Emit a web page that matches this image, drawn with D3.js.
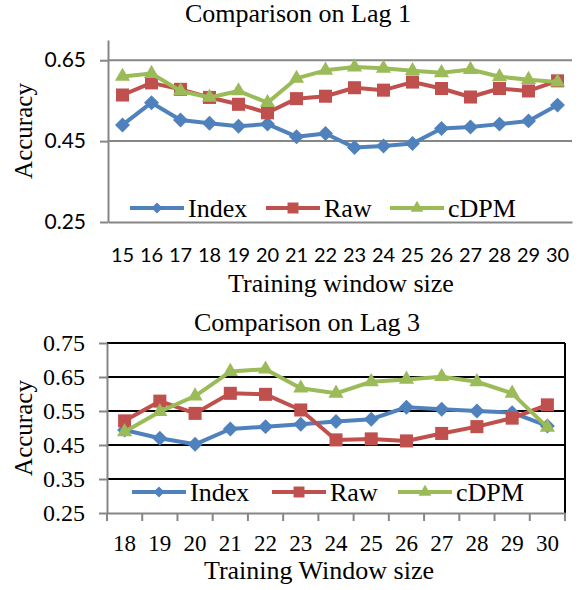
<!DOCTYPE html>
<html>
<head>
<meta charset="utf-8">
<script src="https://cdn.jsdelivr.net/npm/d3@7"></script>
<style>
  body { margin: 0; background: #fff; }
  svg { display: block; }
</style>
</head>
<body>
<div id="chart"></div>
<script>
// data
var lag1Sizes = [15, 16, 17, 18, 19, 20, 21, 22, 23, 24, 25, 26, 27, 28, 29, 30];
var lag1Index = [0.490, 0.545, 0.502, 0.494, 0.487, 0.492, 0.461, 0.469, 0.434, 0.438, 0.444, 0.481, 0.485, 0.492, 0.500, 0.539];
var lag1Raw   = [0.564, 0.594, 0.578, 0.558, 0.541, 0.520, 0.555, 0.561, 0.582, 0.576, 0.596, 0.580, 0.559, 0.580, 0.574, 0.599];
var lag1Cdpm  = [0.610, 0.617, 0.574, 0.558, 0.574, 0.545, 0.605, 0.625, 0.633, 0.630, 0.624, 0.619, 0.627, 0.609, 0.602, 0.596];
var lag1Ticks = [0.25, 0.45, 0.65];

var lag3Sizes = [18, 19, 20, 21, 22, 23, 24, 25, 26, 27, 28, 29, 30];
var lag3Index = [0.494, 0.470, 0.452, 0.497, 0.504, 0.511, 0.519, 0.526, 0.561, 0.555, 0.550, 0.545, 0.506];
var lag3Raw   = [0.521, 0.579, 0.543, 0.602, 0.599, 0.553, 0.465, 0.468, 0.462, 0.484, 0.504, 0.529, 0.568];
var lag3Cdpm  = [0.489, 0.548, 0.594, 0.666, 0.673, 0.617, 0.602, 0.636, 0.643, 0.651, 0.636, 0.602, 0.502];
var lag3Ticks = [0.25, 0.35, 0.45, 0.55, 0.65, 0.75];

var seriesNames = ["Index", "Raw", "cDPM"];
var colors = ["#4F81BD", "#C0504D", "#9BBB59"];

var serif = "'Liberation Serif', 'Times New Roman', serif";
var sans = "Lato, 'Open Sans', sans-serif";

var width = 580, height = 590;
var svg = d3.select("#chart").append("svg")
  .attr("width", width).attr("height", height);

// marker shapes (diamond = rotated square, like Excel)
function marker(sel, i, big) {
  if (i == 0) {
    sel.attr("d", d3.symbol(d3.symbolSquare, big ? 112 : 62)())
      .attr("transform", function() { return d3.select(this).attr("transform") + " rotate(45)"; });
  } else if (i == 1) {
    sel.attr("d", d3.symbol(d3.symbolSquare, big ? 170 : 120)());
  } else {
    sel.attr("d", d3.symbol(d3.symbolTriangle, big ? 100 : 70)());
  }
}

function drawChart(opt) {
  var g = svg.append("g");
  var x = d3.scaleBand().domain(opt.sizes).range([opt.left, opt.right]).padding(0);
  var y = d3.scaleLinear().domain(opt.yDomain).range([opt.bottom, opt.top]);

  // title
  g.append("text").attr("x", opt.titleX).attr("y", opt.titleY)
    .attr("text-anchor", "middle").style("font-family", serif).style("font-size", "26px")
    .text(opt.title);

  // gridlines
  g.append("g").selectAll("line").data(opt.ticks.filter(function(t) { return t > opt.ticks[0]; }))
    .enter().append("line")
    .attr("x1", opt.left).attr("x2", opt.right)
    .attr("y1", function(d) { return y(d); }).attr("y2", function(d) { return y(d); })
    .attr("stroke", opt.gridColor).attr("stroke-width", 2);

  if (opt.box) {
    g.append("line").attr("x1", opt.left).attr("x2", opt.right)
      .attr("y1", opt.top).attr("y2", opt.top).attr("stroke", "#000").attr("stroke-width", 2);
    g.append("line").attr("x1", opt.right).attr("x2", opt.right)
      .attr("y1", opt.top).attr("y2", opt.bottom).attr("stroke", "#000").attr("stroke-width", 2);
  }

  // y axis
  var yAxis = d3.axisLeft(y).tickValues(opt.ticks).tickFormat(d3.format(".2f"))
    .tickSizeInner(8).tickSizeOuter(0).tickPadding(14);
  var ya = g.append("g").attr("transform", "translate(" + opt.left + ",0)").call(yAxis);
  ya.select(".domain").attr("stroke", "#868686").attr("stroke-width", 2);
  ya.selectAll(".tick line").attr("stroke", "#868686").attr("stroke-width", 2);
  ya.selectAll(".tick text").style("font-family", opt.tickFont).style("font-size", opt.yTickSize)
    .attr("fill", "#000");

  // x axis
  var xAxis = d3.axisBottom(x).tickSize(0).tickSizeOuter(0).tickPadding(opt.xPad);
  var xa = g.append("g").attr("transform", "translate(0," + opt.bottom + ")").call(xAxis);
  xa.select(".domain").attr("stroke", "#868686").attr("stroke-width", 2);
  xa.selectAll(".tick text").style("font-family", opt.tickFont).style("font-size", opt.xTickSize)
    .attr("fill", "#000");
  if (opt.xMarks) {
    var bounds = opt.sizes.map(function(d) { return x(d); }).concat([opt.right]);
    xa.selectAll(".bound").data(bounds).enter().append("line")
      .attr("x1", function(d) { return d; }).attr("x2", function(d) { return d; })
      .attr("y1", 0).attr("y2", 8).attr("stroke", "#868686").attr("stroke-width", 2);
  }

  // axis titles
  g.append("text").attr("x", opt.xTitleX).attr("y", opt.xTitleY)
    .attr("text-anchor", "middle").style("font-family", serif).style("font-size", "26px")
    .text(opt.xTitle);
  g.append("text")
    .attr("transform", "translate(" + opt.yTitleX + "," + ((opt.top + opt.bottom) / 2) + ") rotate(-90)")
    .attr("text-anchor", "middle").style("font-family", serif).style("font-size", "25px")
    .text("Accuracy");

  // lines and markers
  var line = d3.line()
    .x(function(d, i) { return x(opt.sizes[i]) + x.bandwidth() / 2; })
    .y(function(d) { return y(d); });
  opt.series.forEach(function(vals, i) {
    g.append("path").datum(vals).attr("d", line)
      .attr("fill", "none").attr("stroke", colors[i]).attr("stroke-width", 4)
      .attr("stroke-linejoin", "round");
    g.append("g").selectAll("path").data(vals).enter().append("path")
      .attr("transform", function(d, j) {
        return "translate(" + (x(opt.sizes[j]) + x.bandwidth() / 2) + "," + y(d) + ")";
      })
      .attr("fill", colors[i])
      .each(function() { marker(d3.select(this), i, true); });
  });

  // legend
  var leg = g.append("g");
  seriesNames.forEach(function(name, i) {
    var lx = opt.legendX[i];
    leg.append("line").attr("x1", lx).attr("x2", lx + 54)
      .attr("y1", opt.legendY - 9).attr("y2", opt.legendY - 9)
      .attr("stroke", colors[i]).attr("stroke-width", 4);
    leg.append("path").attr("transform", "translate(" + (lx + 27) + "," + (opt.legendY - 9) + ")")
      .attr("fill", colors[i]).each(function() { marker(d3.select(this), i, false); });
    leg.append("text").attr("x", lx + 58).attr("y", opt.legendY)
      .style("font-family", serif).style("font-size", "26px").text(name);
  });
}

drawChart({
  sizes: lag1Sizes, series: [lag1Index, lag1Raw, lag1Cdpm], ticks: lag1Ticks,
  yDomain: [0.25, 0.70], left: 108, right: 572, top: 40, bottom: 222,
  title: "Comparison on Lag 1", titleX: 298, titleY: 22,
  gridColor: "#868686", box: false, xMarks: false,
  tickFont: sans, yTickSize: "21px", xTickSize: "20px", xPad: 26,
  xTitle: "Training window size", xTitleX: 341, xTitleY: 292, yTitleX: 32,
  legendX: [130, 266, 390], legendY: 217
});

drawChart({
  sizes: lag3Sizes, series: [lag3Index, lag3Raw, lag3Cdpm], ticks: lag3Ticks,
  yDomain: [0.25, 0.75], left: 107, right: 565, top: 343, bottom: 513,
  title: "Comparison on Lag 3", titleX: 307, titleY: 331,
  gridColor: "#000", box: true, xMarks: true,
  tickFont: serif, yTickSize: "24px", xTickSize: "23px", xPad: 22,
  xTitle: "Training Window size", xTitleX: 319, xTitleY: 579, yTitleX: 32,
  legendX: [132, 272, 398], legendY: 501
});
</script>
</body>
</html>
